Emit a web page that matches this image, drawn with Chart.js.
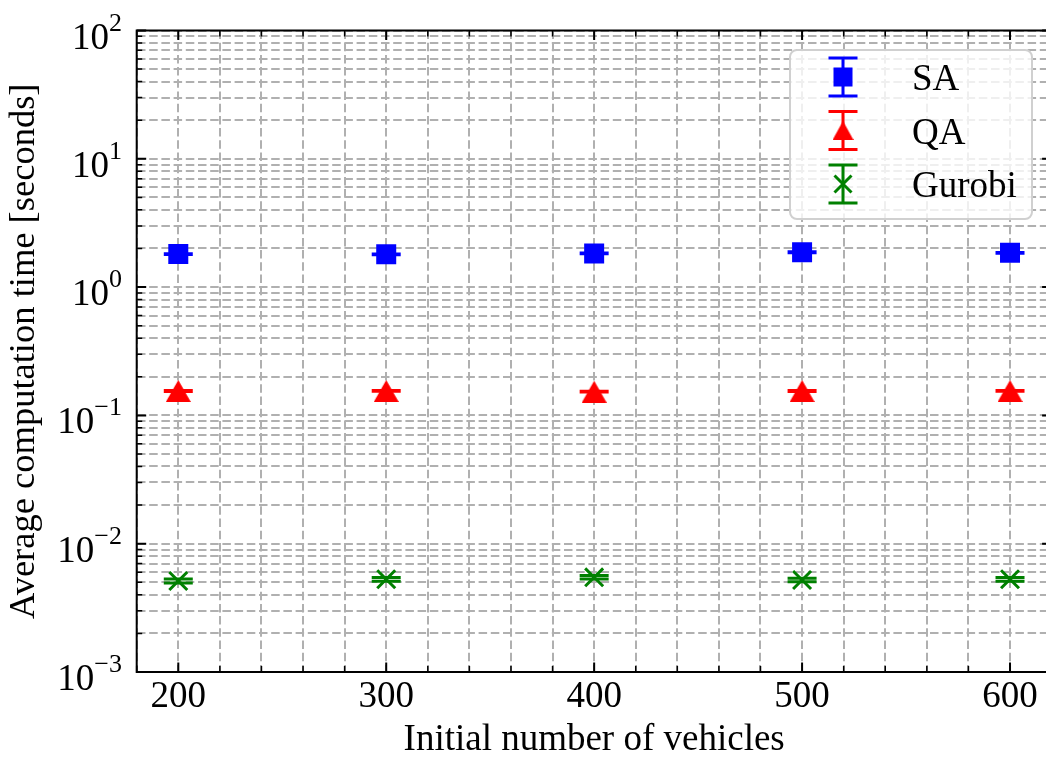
<!DOCTYPE html>
<html><head><meta charset="utf-8">
<script src="https://cdn.jsdelivr.net/npm/chart.js@4.4.0/dist/chart.umd.min.js"></script>
<style>
html,body{margin:0;padding:0;background:#fff;overflow:hidden;width:1046px;height:760px}
#wrap{position:absolute;left:0;top:0;width:1060px;height:760px}
</style>
</head><body><div id="wrap"><canvas id="c" width="1060" height="760"></canvas></div>
<script>
// ---- data ----
const categories = [200, 300, 400, 500, 600];
const saValues = [1.81, 1.80, 1.83, 1.87, 1.85];
const saErrors = [0.012, 0.010, 0.012, 0.014, 0.012];
const qaValues = [0.155, 0.155, 0.153, 0.155, 0.155];
const qaErrors = [0.0012, 0.0010, 0.0010, 0.0012, 0.0010];
const gurobiValues = [0.00512, 0.00528, 0.00547, 0.00521, 0.00528];
const gurobiErrors = [0.00019, 0.00018, 0.00017, 0.00016, 0.00018];
const seriesNames = ['SA', 'QA', 'Gurobi'];
const xGridValues = [180, 200, 220, 240, 260, 280, 300, 320, 340, 360, 380, 400, 420, 440, 460, 480, 500, 520, 540, 560, 580, 600, 620];
const xTickLabels = ['200', '300', '400', '500', '600'];
const yDecadeExps = [-3, -2, -1, 0, 1, 2];
const yTickExpLabels = ['\u22123', '\u22122', '\u22121', '0', '1', '2'];
const xTitle = 'Initial number of vehicles';
const yTitle = 'Average computation time [seconds]';

const FONT = "'Liberation Serif', 'Times New Roman', serif";
const FS = 37;
const COLORS = ['#0000ff', '#ff0000', '#008000'];

function triangleImg(w, h, color) {
  const c = document.createElement('canvas');
  c.width = w; c.height = h;
  const g = c.getContext('2d');
  g.fillStyle = color;
  g.beginPath(); g.moveTo(w / 2, 0); g.lineTo(w, h); g.lineTo(0, h); g.closePath(); g.fill();
  return c;
}
const triPlot = triangleImg(25, 22, COLORS[1]);
const triLegend = triangleImg(21, 19, COLORS[1]);

const yGridValues = [];
for (let d = -3; d <= 1; d++) for (let m = 1; m <= 9; m++) yGridValues.push({ v: m * Math.pow(10, d), major: m === 1 });
yGridValues.push({ v: 100, major: true });

const errorSeries = [
  { values: saValues, errors: saErrors, color: COLORS[0] },
  { values: qaValues, errors: qaErrors, color: COLORS[1] },
  { values: gurobiValues, errors: gurobiErrors, color: COLORS[2] }
];

const decor = {
  id: 'decor',
  beforeDatasetsDraw(chart) {
    const ctx = chart.ctx, xs = chart.scales.x, ys = chart.scales.y;
    ctx.save();
    ctx.lineWidth = 3;
    errorSeries.forEach(s => {
      ctx.strokeStyle = s.color;
      categories.forEach((c, i) => {
        const px = xs.getPixelForValue(c);
        const yHi = ys.getPixelForValue(s.values[i] + s.errors[i]);
        const yLo = ys.getPixelForValue(s.values[i] - s.errors[i]);
        ctx.beginPath();
        ctx.moveTo(px, yHi); ctx.lineTo(px, yLo);
        ctx.moveTo(px - 14.5, yHi); ctx.lineTo(px + 14.5, yHi);
        ctx.moveTo(px - 14.5, yLo); ctx.lineTo(px + 14.5, yLo);
        ctx.stroke();
      });
    });
    ctx.restore();
  },
  afterDraw(chart) {
    const ctx = chart.ctx, xs = chart.scales.x, ys = chart.scales.y;
    const { left, right, top, bottom } = chart.chartArea;
    ctx.save();
    ctx.strokeStyle = '#000';
    // x ticks (inward, bottom & top)
    xGridValues.forEach(v => {
      const major = categories.includes(v);
      const px = xs.getPixelForValue(v);
      const len = major ? 9.5 : 6;
      ctx.lineWidth = major ? 2 : 1.5;
      ctx.beginPath();
      ctx.moveTo(px, bottom); ctx.lineTo(px, bottom - len);
      ctx.moveTo(px, top); ctx.lineTo(px, top + len);
      ctx.stroke();
    });
    // y ticks (inward, left & right)
    yGridValues.forEach(t => {
      const py = ys.getPixelForValue(t.v);
      const len = t.major ? 9.5 : 5.5;
      ctx.lineWidth = t.major ? 2 : 1.5;
      ctx.beginPath();
      ctx.moveTo(left, py); ctx.lineTo(left + len, py);
      ctx.moveTo(right, py); ctx.lineTo(right - len, py);
      ctx.stroke();
    });
    // spines
    ctx.lineWidth = 2;
    ctx.strokeRect(left, top, right - left, bottom - top);
    // y tick labels 10^n
    ctx.fillStyle = '#000';
    ctx.textAlign = 'right';
    ctx.textBaseline = 'alphabetic';
    yDecadeExps.forEach((d, i) => {
      const py = ys.getPixelForValue(Math.pow(10, d));
      ctx.font = `26px ${FONT}`;
      const ew = ctx.measureText(yTickExpLabels[i]).width;
      ctx.fillText(yTickExpLabels[i], 122, py);
      ctx.font = `${FS}px ${FONT}`;
      ctx.fillText('10', 122 - ew, py + 18);
    });
    // legend
    const lx = 790, ly = 50, lw = 242, lh = 169, r = 7;
    ctx.beginPath();
    ctx.roundRect(lx, ly, lw, lh, r);
    ctx.fillStyle = 'rgba(255,255,255,0.8)';
    ctx.fill();
    ctx.lineWidth = 2;
    ctx.strokeStyle = '#d0d0d0';
    ctx.stroke();
    const rowY = [77, 130.5, 184];
    const mx = 843;
    seriesNames.forEach((name, i) => {
      const cy = rowY[i];
      ctx.strokeStyle = COLORS[i];
      ctx.fillStyle = COLORS[i];
      ctx.lineWidth = 3;
      ctx.beginPath();
      ctx.moveTo(mx, cy - 19); ctx.lineTo(mx, cy + 19);
      ctx.moveTo(mx - 14.5, cy - 19); ctx.lineTo(mx + 14.5, cy - 19);
      ctx.moveTo(mx - 14.5, cy + 19); ctx.lineTo(mx + 14.5, cy + 19);
      ctx.stroke();
      if (i === 0) {
        ctx.fillRect(mx - 9.5, cy - 9.5, 19, 19);
      } else if (i === 1) {
        ctx.drawImage(triLegend, mx - 10.5, cy - 9.5);
      } else {
        ctx.beginPath();
        ctx.moveTo(mx - 8.5, cy - 8.5); ctx.lineTo(mx + 8.5, cy + 8.5);
        ctx.moveTo(mx - 8.5, cy + 8.5); ctx.lineTo(mx + 8.5, cy - 8.5);
        ctx.stroke();
      }
      ctx.fillStyle = '#000';
      ctx.textAlign = 'left';
      ctx.font = `${FS}px ${FONT}`;
      ctx.fillText(name, 912, cy + 13);
    });
    ctx.restore();
  }
};

const gridOpts = { color: '#b0b0b0', lineWidth: 2, drawTicks: false };

new Chart(document.getElementById('c'), {
  type: 'scatter',
  data: {
    datasets: [
      { label: seriesNames[0], data: categories.map((x, i) => ({ x, y: saValues[i] })),
        pointStyle: 'rect', pointRadius: 14.14, backgroundColor: COLORS[0], borderColor: COLORS[0], borderWidth: 0, showLine: false },
      { label: seriesNames[1], data: categories.map((x, i) => ({ x, y: qaValues[i] })),
        pointStyle: triPlot, pointRadius: 13, backgroundColor: COLORS[1], borderColor: COLORS[1], borderWidth: 0, showLine: false },
      { label: seriesNames[2], data: categories.map((x, i) => ({ x, y: gurobiValues[i] })),
        pointStyle: 'crossRot', pointRadius: 12.7, backgroundColor: COLORS[2], borderColor: COLORS[2], borderWidth: 3, showLine: false }
    ]
  },
  options: {
    responsive: false,
    animation: false,
    events: [],
    devicePixelRatio: 1,
    layout: { autoPadding: false, padding: { top: 30.5, right: 8.4, bottom: 0, left: 0 } },
    plugins: { legend: { display: false }, tooltip: { enabled: false } },
    scales: {
      x: {
        type: 'linear', min: 180, max: 620,
        afterBuildTicks: s => { s.ticks = xGridValues.map(v => ({ value: v })); },
        afterFit: s => { s.height = 88; s.paddingLeft = 0; s.paddingRight = 0; },
        grid: gridOpts,
        border: { display: false, dash: [8.5, 3.7] },
        ticks: {
          autoSkip: false, maxRotation: 0, minRotation: 0, padding: 7, color: '#000',
          font: { family: FONT, size: FS, lineHeight: 1 },
          callback: v => (xTickLabels.includes(String(v)) ? String(v) : '')
        },
        title: { display: true, text: xTitle, color: '#000', font: { family: FONT, size: FS, lineHeight: 1 }, padding: { top: 0, bottom: 1 } }
      },
      y: {
        type: 'logarithmic', min: 0.001, max: 100,
        afterBuildTicks: s => { s.ticks = yGridValues.map(t => ({ value: t.v, major: t.major })); },
        afterFit: s => { s.width = 136.7; s.paddingTop = 0; s.paddingBottom = 0; },
        grid: gridOpts,
        border: { display: false, dash: [8.5, 3.7] },
        ticks: { display: false },
        title: { display: true, text: yTitle, color: '#000', font: { family: FONT, size: 36.5, lineHeight: 1 }, padding: { top: 6, bottom: 0 } }
      }
    }
  },
  plugins: [decor]
});
</script>
</body></html>
